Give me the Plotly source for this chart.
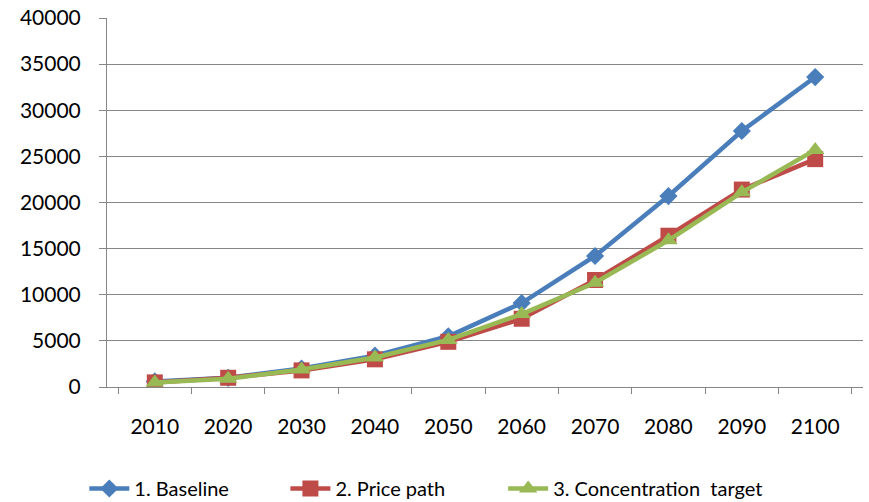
import plotly.graph_objects as go

years = ["2010", "2020", "2030", "2040", "2050", "2060", "2070", "2080", "2090", "2100"]
baseline = [600, 1000, 2000, 3400, 5500, 9100, 14200, 20700, 27750, 33600]
price_path = [500, 1000, 1800, 3000, 4900, 7400, 11600, 16400, 21400, 24700]
concentration = [500, 900, 1900, 3200, 5100, 7900, 11300, 15900, 21100, 25700]

series = [
    ("1. Baseline", baseline, "#4a7ebb", "diamond", 14, "legend", -0.030),
    ("2. Price path", price_path, "#be4b48", "square", 16, "legend2", 0.236),
    ("3. Concentration  target", concentration, "#98b954", "triangle-up", 16, "legend3", 0.524),
]

font_family = "Lato, Open Sans, sans-serif"
axis_grey = "#868686"

fig = go.Figure()
legends = {}
for name, vals, color, symbol, size, leg, lx in series:
    fig.add_trace(go.Scatter(
        x=years, y=vals, name=name, mode="lines+markers",
        line=dict(color=color, width=4.5),
        marker=dict(symbol=symbol, size=size, color=color),
        legend=leg,
    ))
    legends[leg] = dict(orientation="h", x=lx, xanchor="left", y=-0.275, yanchor="middle",
                        font=dict(size=20), itemwidth=40, bgcolor="rgba(0,0,0,0)")

fig.update_layout(
    width=869, height=502,
    margin=dict(l=107, r=6, t=18, b=115, autoexpand=False),
    paper_bgcolor="white", plot_bgcolor="white",
    font=dict(family=font_family, size=21, color="#000000"),
    showlegend=True,
    xaxis=dict(type="category", tickson="boundaries", ticks="outside", ticklen=6,
               tickcolor=axis_grey, showline=True, linecolor=axis_grey, linewidth=1,
               showgrid=False, tickfont=dict(size=21), ticklabelstandoff=21,
               automargin=False),
    yaxis=dict(range=[0, 40000], dtick=5000, tickformat="d", ticks="outside", ticklen=7,
               tickcolor=axis_grey, showline=True, linecolor=axis_grey, linewidth=1,
               showgrid=True, gridcolor=axis_grey, gridwidth=1, zeroline=False,
               tickfont=dict(size=21), ticklabelstandoff=14, automargin=False),
    **legends,
)

fig.write_html("out.html")
